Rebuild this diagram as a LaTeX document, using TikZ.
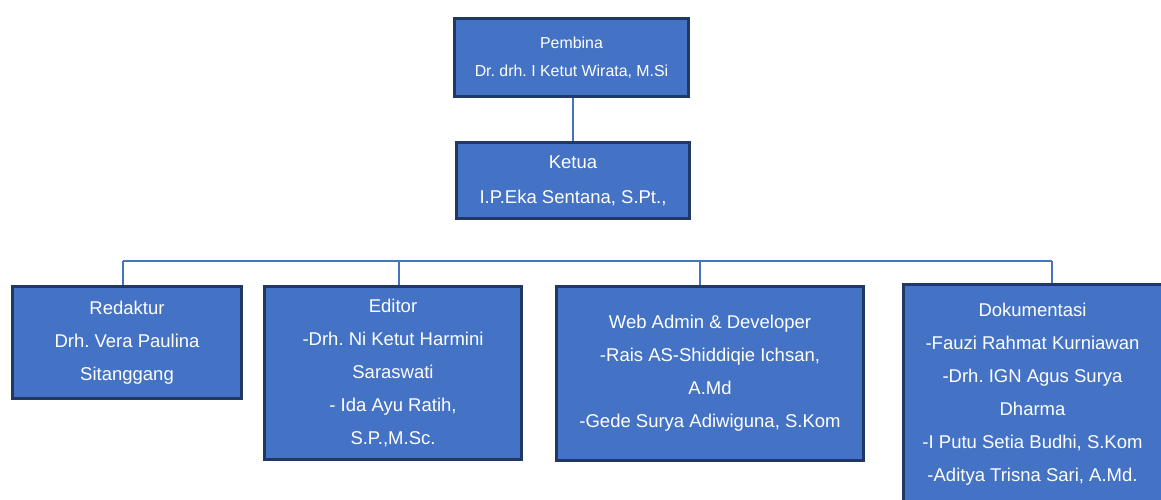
\documentclass[tikz,border=0pt]{standalone}
\usepackage{fontspec}
\setmainfont{Liberation Sans}
\frenchspacing
\definecolor{boxblue}{HTML}{4472C4}
\definecolor{boxedge}{HTML}{1F3864}
\begin{document}
\begin{tikzpicture}[x=1pt,y=-1pt,
    unit/.style={draw=boxedge,line width=3pt,fill=boxblue,text=white,align=center,inner sep=0pt,font=\fontsize{18.5}{33}\selectfont},
    link/.style={draw=boxblue,line width=1.5pt}]
    \useasboundingbox (0,0) rectangle (1161,499);
    \node[unit,minimum width=234,minimum height=78,font=\fontsize{15.9}{28}\selectfont] (pembina) at (571.5,57.5) {Pembina\\Dr. drh. I Ketut Wirata, M.Si};
    \node[unit,minimum width=233,minimum height=76,font=\fontsize{18.5}{35}\selectfont] (ketua) at (573,180.5) {Ketua\\I.P.Eka Sentana, S.Pt.,};
    \node[unit,minimum width=229,minimum height=112] (redaktur) at (127,342.5) {Redaktur\\Drh. Vera Paulina\\Sitanggang};
    \node[unit,minimum width=257,minimum height=173] (editor) at (393,373) {Editor\\-Drh. Ni Ketut Harmini\\Saraswati\\- Ida Ayu Ratih,\\S.P.,M.Sc.};
    \node[unit,minimum width=307,minimum height=174] (webadmin) at (710,373.5) {Web Admin \& Developer\\-Rais AS-Shiddiqie Ichsan,\\A.Md\\-Gede Surya Adiwiguna, S.Kom};
    \node[unit,minimum width=259,minimum height=220] (dokumentasi) at (1032.5,394) {Dokumentasi\\-Fauzi Rahmat Kurniawan\\-Drh. IGN Agus Surya\\Dharma\\-I Putu Setia Budhi, S.Kom\\-Aditya Trisna Sari, A.Md.};
    \coordinate (b1) at (123,261);
    \coordinate (b2) at (399,261);
    \coordinate (b3) at (700,261);
    \coordinate (b4) at (1052,261);
    \draw[link] (pembina.south -| ketua.north) -- (ketua.north);
    \draw[link] (b1) -- (b4);
    \draw[link] (b1) -- (b1 |- redaktur.north);
    \draw[link] (b2) -- (b2 |- editor.north);
    \draw[link] (b3) -- (b3 |- webadmin.north);
    \draw[link] (b4) -- (b4 |- dokumentasi.north);
\end{tikzpicture}
\end{document}
